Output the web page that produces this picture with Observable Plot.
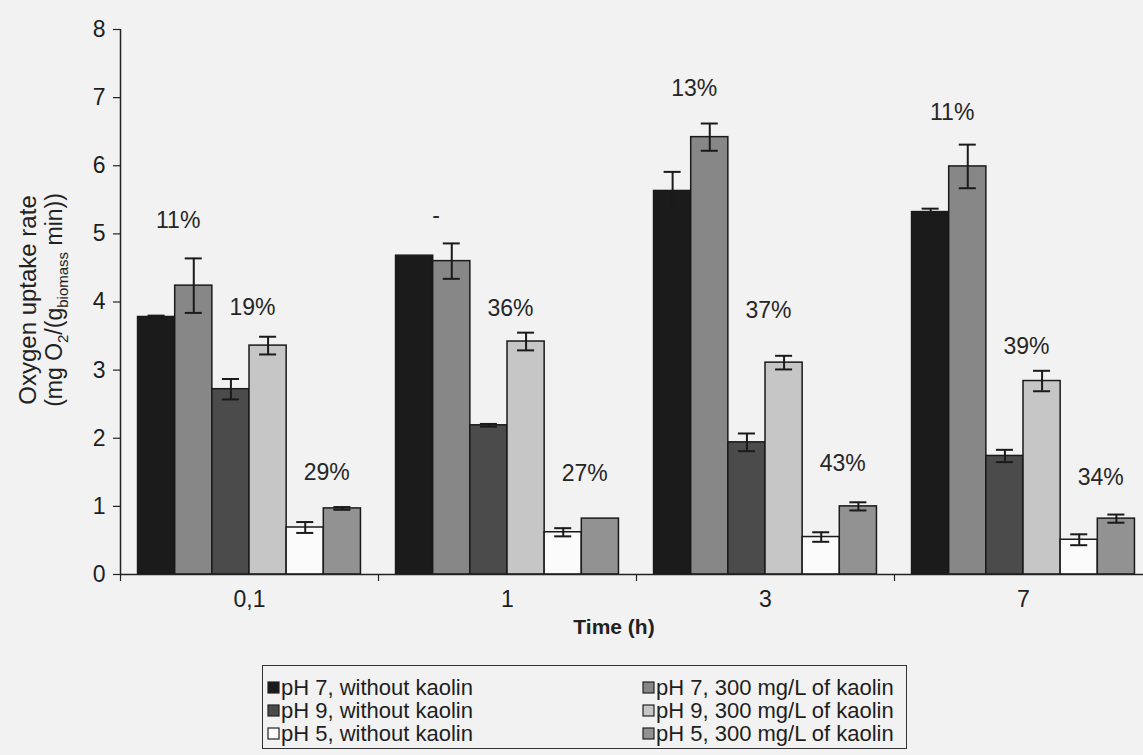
<!DOCTYPE html>
<html><head><meta charset="utf-8">
<script src="https://cdn.jsdelivr.net/npm/d3@7"></script>
<script src="https://cdn.jsdelivr.net/npm/@observablehq/plot@0.6"></script>
<style>
html,body{margin:0;padding:0;background:#f2f2f2;overflow:hidden;width:1143px;height:755px}
#chart{position:relative;width:1143px;height:755px;font-family:"Liberation Sans",Arial,sans-serif;color:#1e1e1e}
#chart svg.main{position:absolute;left:0;top:0;overflow:visible}
#legendBox{position:absolute;left:262px;top:665px;width:645px;height:84px;border:1.5px solid #333;box-sizing:border-box;padding:10px 0 0 5px}
</style></head><body><div id="chart"><div id="legendBox"></div></div><script>
// categories
const times = ["0,1", "1", "3", "7"];
const series = [
  "pH 7, without kaolin",
  "pH 7, 300 mg/L of kaolin",
  "pH 9, without kaolin",
  "pH 9, 300 mg/L of kaolin",
  "pH 5, without kaolin",
  "pH 5, 300 mg/L of kaolin"
];
const seriesColors = ["#1b1b1b", "#878787", "#4b4b4b", "#c6c6c6", "#fbfbfb", "#929292"];

// series values (mg O2/(g biomass min)) per time
const pH7_without = [3.78, 4.68, 5.63, 5.32];
const pH7_kaolin  = [4.24, 4.60, 6.42, 5.99];
const pH9_without = [2.72, 2.19, 1.94, 1.74];
const pH9_kaolin  = [3.36, 3.42, 3.11, 2.84];
const pH5_without = [0.69, 0.62, 0.55, 0.51];
const pH5_kaolin  = [0.97, 0.82, 1.00, 0.82];

// error bar half-heights
const pH7_without_err = [0.02, 0.00, 0.28, 0.05];
const pH7_kaolin_err  = [0.40, 0.26, 0.20, 0.32];
const pH9_without_err = [0.15, 0.02, 0.13, 0.09];
const pH9_kaolin_err  = [0.13, 0.13, 0.10, 0.15];
const pH5_without_err = [0.08, 0.06, 0.07, 0.08];
const pH5_kaolin_err  = [0.02, 0.00, 0.06, 0.06];

// percentage annotations: one per pH pair (7, 9, 5) per time, with the height of the label
const pairLabels = [["11%", "19%", "29%"], ["-", "36%", "27%"], ["13%", "37%", "43%"], ["11%", "39%", "34%"]];
const pairLabelY = [[5.2, 3.92, 1.5], [5.27, 3.9, 1.48], [7.13, 3.88, 1.63], [6.78, 3.34, 1.42]];

// tick labels
const yTicks = [0, 1, 2, 3, 4, 5, 6, 7, 8];

const values = [pH7_without, pH7_kaolin, pH9_without, pH9_kaolin, pH5_without, pH5_kaolin];
const errors = [pH7_without_err, pH7_kaolin_err, pH9_without_err, pH9_kaolin_err, pH5_without_err, pH5_kaolin_err];

const pad = 0.068;                 // gap at each side of a category
const bw = (1 - 2 * pad) / series.length; // bar width in category units
const cap = 0.033;                 // half width of the error caps

const rows = times.flatMap((t, g) => series.map((s, si) => ({
  t, g, s, si, v: values[si][g], e: errors[si][g]
})));
const errRows = rows.filter(d => d.e > 0);
const center = d => d.g + pad + (d.si + 0.5) * bw;

const annos = times.flatMap((t, g) => pairLabels[g].map((lab, k) => ({
  g, k, lab, y: pairLabelY[g][k]
})));

const font = '"Liberation Sans", Arial, sans-serif';

const plot = Plot.plot({
  width: 1143,
  height: 655,
  marginLeft: 120,
  marginRight: 0,
  marginTop: 29,
  marginBottom: 81,
  style: {background: "transparent", fontFamily: font, fontSize: "22px", color: "#1e1e1e", overflow: "visible"},
  x: {domain: [0, 4], range: [120, 1152]},
  y: {domain: [0, 8]},
  color: {domain: series, range: seriesColors},
  marks: [
    Plot.rect(rows, {
      x1: d => d.g + pad + d.si * bw,
      x2: d => d.g + pad + (d.si + 1) * bw,
      y1: 0, y2: "v", fill: "s", stroke: "#1a1a1a", strokeWidth: 1.5
    }),
    Plot.ruleX(errRows, {x: center, y1: d => d.v - d.e, y2: d => d.v + d.e, stroke: "#1a1a1a", strokeWidth: 2}),
    Plot.ruleY(errRows, {x1: d => center(d) - cap, x2: d => center(d) + cap, y: d => d.v + d.e, stroke: "#1a1a1a", strokeWidth: 2}),
    Plot.ruleY(errRows, {x1: d => center(d) - cap, x2: d => center(d) + cap, y: d => d.v - d.e, stroke: "#1a1a1a", strokeWidth: 2}),
    Plot.text(annos, {
      x: d => d.g + pad + (2 * d.k + 1) * bw, y: "y", text: "lab", dx: 3,
      fontSize: 23, fill: "#262626"
    }),
    Plot.ruleX([0], {stroke: "#222", strokeWidth: 1.5}),
    Plot.ruleY([0], {stroke: "#222", strokeWidth: 1.5}),
    Plot.axisY({ticks: yTicks, tickSize: 7, tickPadding: 8, fontSize: 23, label: null, stroke: "#222", strokeWidth: 1.2}),
    Plot.axisX({ticks: [0, 1, 2, 3], tickSize: 7, tickFormat: () => "", label: null, stroke: "#222", strokeWidth: 1.2}),
    Plot.axisX({ticks: [0.5, 1.5, 2.5, 3.5], tickSize: 0, tickPadding: 16, fontSize: 23,
      tickFormat: d => times[Math.floor(d)], label: null}),
    Plot.text(["Time (h)"], {frameAnchor: "bottom", dy: 59, dx: -18, fontSize: 21, fontWeight: "bold", fill: "#222"})
  ]
});
plot.classList.add("main");

// y-axis title with subscripts
const svg = d3.select(plot);
svg.append("text")
  .attr("transform", "translate(30,300) rotate(-90)")
  .attr("text-anchor", "middle").attr("dominant-baseline", "middle")
  .attr("font-size", 24).attr("fill", "#222").attr("font-family", font)
  .text("Oxygen uptake rate");
const t2 = svg.append("text")
  .attr("transform", "translate(56,300) rotate(-90)")
  .attr("text-anchor", "middle").attr("dominant-baseline", "middle")
  .attr("font-size", 23).attr("fill", "#222").attr("font-family", font);
t2.append("tspan").text("(mg O");
t2.append("tspan").attr("font-size", 15).attr("baseline-shift", "sub").text("2");
t2.append("tspan").text("/(g");
t2.append("tspan").attr("font-size", 15).attr("baseline-shift", "sub").text("biomass");
t2.append("tspan").text(" min))");

document.getElementById("chart").prepend(plot);

// legend
const legend = Plot.legend({
  color: {type: "ordinal", domain: series, range: seriesColors},
  swatchSize: 11,
  style: {fontFamily: font, fontSize: "22px", color: "#1e1e1e", background: "transparent"}
});
legend.style.display = "grid";
legend.style.gridTemplateColumns = "375px 265px";
legend.style.rowGap = "0px";
legend.style.minHeight = "0";
legend.style.marginLeft = "0";
legend.querySelectorAll("span").forEach(sp => {
  sp.style.lineHeight = "23px"; sp.style.height = "23px"; sp.style.marginRight = "0"; sp.style.whiteSpace = "nowrap";
});
legend.querySelectorAll("svg").forEach(s => {
  s.style.marginRight = "2px";
  d3.select(s).selectAll("rect").attr("stroke", "#222").attr("stroke-width", 1.2);
});
document.getElementById("legendBox").appendChild(legend);
</script></body></html>
